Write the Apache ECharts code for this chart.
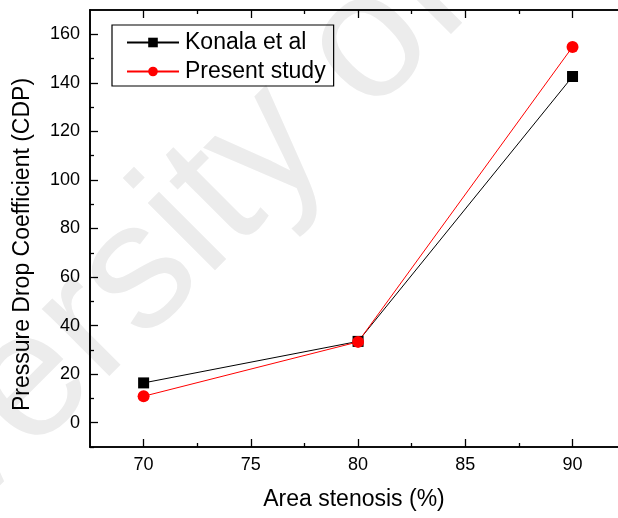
<!DOCTYPE html>
<html>
<head>
<meta charset="UTF-8">
<title>CDP vs area stenosis</title>
<style type="text/css">
html, body { margin: 0; padding: 0; background: #fff; }
#main { width: 618px; height: 518px; }
</style>
</head>
<body>
<div id="main"></div>
<script type="text/javascript" src="https://cdn.jsdelivr.net/npm/echarts@6/dist/echarts.min.js"></script>
<script type="text/javascript">
// data
var stenosis = [70, 80, 90];
var konala = [16.4, 33.5, 142.6];
var present = [10.9, 33.3, 154.8];
var xMajor = [70, 75, 80, 85, 90];
var xMinor = [72.5, 77.5, 82.5, 87.5];
var yMajor = [0, 20, 40, 60, 80, 100, 120, 140, 160];
var yMinor = [-10, 10, 30, 50, 70, 90, 110, 130, 150];

function pairs(xs, ys) {
	var out = [];
	for (var i = 0; i < xs.length; i++) {
		out.push([xs[i], ys[i]]);
	}
	return out;
}

var font = 'Arial, "Liberation Sans", sans-serif';

// one axis with labels + major ticks, one with just minor ticks
function xAxisDef(pos, showLabel, ticks, len) {
	return {
		type: 'value', position: pos, min: 67.5, max: 92.12, interval: 2.5,
		axisLine: { show: true, onZero: false, lineStyle: { color: '#000', width: 1.6 } },
		axisTick: { show: true, inside: true, length: len, customValues: ticks, lineStyle: { color: '#000', width: 1.3 } },
		axisLabel: { show: showLabel, customValues: xMajor, color: '#000', fontSize: 18, fontFamily: font, margin: 9 },
		splitLine: { show: false }
	};
}
function yAxisDef(pos, showLabel, ticks, len) {
	return {
		type: 'value', position: pos, min: -10, max: 170, interval: 10,
		axisLine: { show: true, onZero: false, lineStyle: { color: '#000', width: 1.6 } },
		axisTick: { show: true, inside: true, length: len, customValues: ticks, lineStyle: { color: '#000', width: 1.3 } },
		axisLabel: { show: showLabel, customValues: yMajor, color: '#000', fontSize: 18, fontFamily: font, margin: 10 },
		splitLine: { show: false }
	};
}

var chart = echarts.init(document.getElementById('main'));

var xMain = xAxisDef('bottom', true, xMajor, 8);
xMain.name = 'Area stenosis (%)';
xMain.nameLocation = 'middle';
xMain.nameGap = 41;
xMain.nameTextStyle = { color: '#000', fontSize: 23, fontFamily: font };

var yMain = yAxisDef('left', true, yMajor, 8);
yMain.name = 'Pressure Drop Coefficient (CDP)';
yMain.nameLocation = 'middle';
yMain.nameGap = 56;
// label sits a bit below the plot centre in the reference
yMain.nameTextStyle = { color: '#000', fontSize: 23, fontFamily: font, padding: [0, 32, 0, 0] };

var option = {
	backgroundColor: '#fff',
	animation: false,
	graphic: [{
		type: 'text', z: -10, silent: true,
		x: 90, y: 325,
		rotation: 45 * Math.PI / 180,
		style: {
			text: 'University of', fill: '#ececec',
			font: '180px Arial, "Liberation Sans", sans-serif',
			align: 'center', verticalAlign: 'middle'
		}
	}],
	grid: { left: 90, right: 0, top: 10, bottom: 71, containLabel: false },
	legend: {
		orient: 'vertical',
		left: 112, top: 25,
		padding: [6, 8, 3, 14],
		itemGap: 6,
		itemWidth: 52, itemHeight: 12,
		borderColor: '#000', borderWidth: 1.2,
		textStyle: { color: '#000', fontSize: 23, fontFamily: font, padding: [0, 0, 0, 1] },
		data: ['Konala et al', 'Present study']
	},
	xAxis: [
		xMain,
		xAxisDef('bottom', false, xMinor, 4),
		xAxisDef('top', false, xMajor, 8),
		xAxisDef('top', false, xMinor, 4)
	],
	yAxis: [
		yMain,
		yAxisDef('left', false, yMinor, 4)
	],
	series: [
		{
			name: 'Konala et al', type: 'line', xAxisIndex: 0, yAxisIndex: 0,
			data: pairs(stenosis, konala),
			symbol: 'rect', symbolSize: 11,
			itemStyle: { color: '#000' },
			lineStyle: { color: '#000', width: 1 }
		},
		{
			name: 'Present study', type: 'line', xAxisIndex: 0, yAxisIndex: 0,
			data: pairs(stenosis, present),
			symbol: 'circle', symbolSize: 12,
			itemStyle: { color: '#ff0000' },
			lineStyle: { color: '#ff0000', width: 1 }
		}
	]
};
chart.setOption(option);
</script>
</body>
</html>
